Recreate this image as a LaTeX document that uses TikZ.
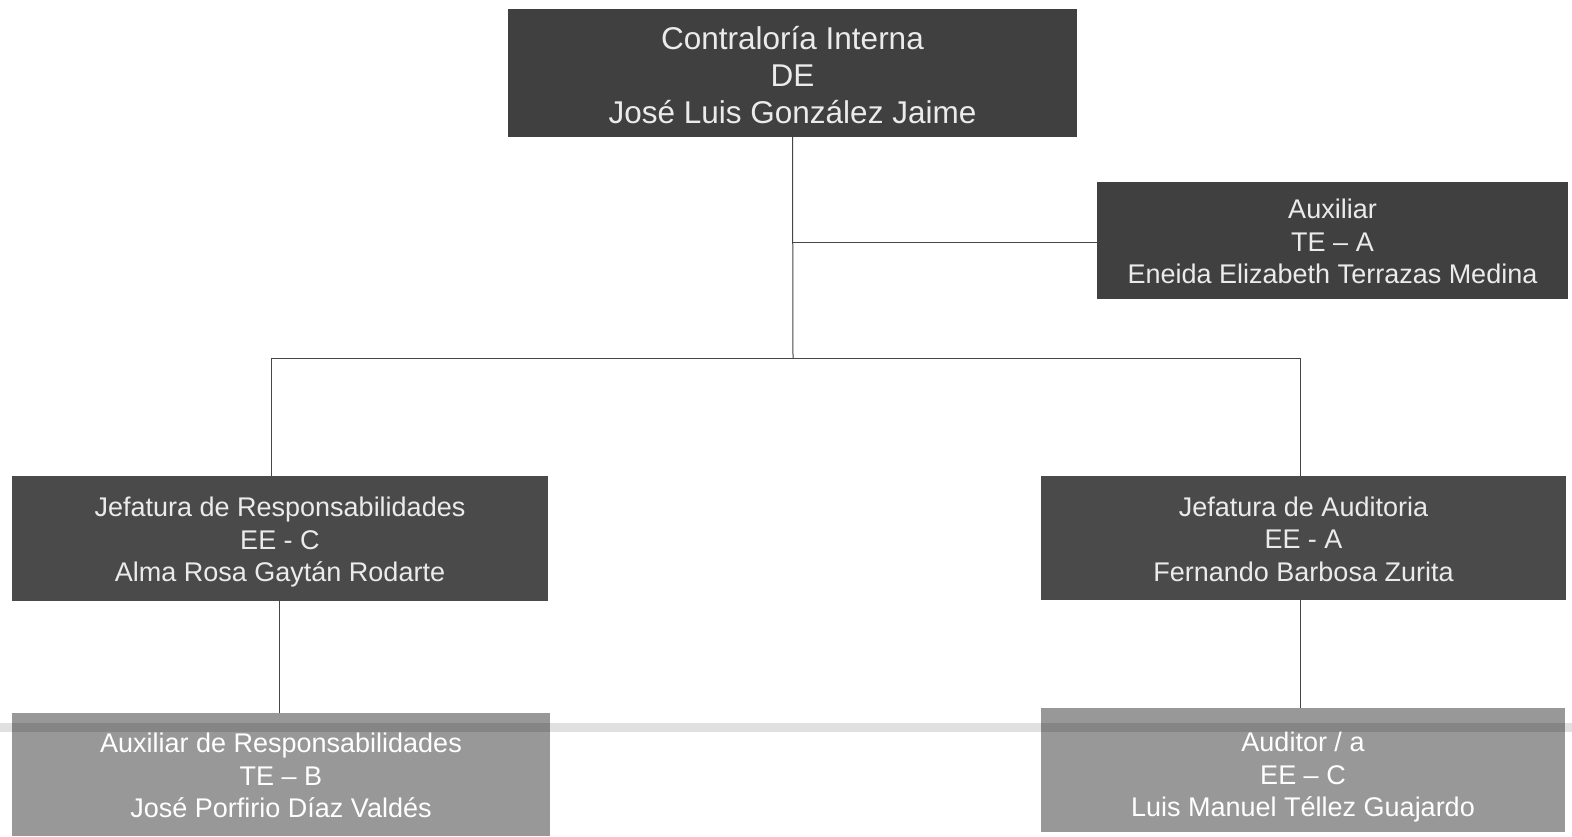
\documentclass[tikz,border=0pt]{standalone}
\usepackage{fontspec}
\setmainfont{Liberation Sans}
\definecolor{boxdark}{RGB}{64,64,64}
\definecolor{boxlight}{RGB}{152,152,152}
\definecolor{linkgray}{RGB}{70,70,70}
\begin{document}
\begin{tikzpicture}%
	[
	x=1pt,
	y=-1pt,
	dark/.style={rectangle, fill=boxdark, text=white!92!black, align=center, inner sep=0pt,
		font=\fontsize{27}{32.5}\selectfont, text height=92.4pt, text depth=6pt},
	light/.style={dark, fill=boxlight, text=white},
	top/.style={font=\fontsize{31.5}{37}\selectfont, text height=107.6pt, text depth=7pt},
	link/.style={color=linkgray, line width=1pt},
	fold/.style={color=black, line width=9pt, opacity=.12}]

\useasboundingbox[fill=white] (0,0) rectangle (1572,836);

\node[dark, top, minimum width=569, minimum height=128]
	(contraloria) at (792.5,73) {Contraloría Interna\\DE\\José Luis González Jaime};
\node[dark, minimum width=471, minimum height=117]
	(auxiliar) at (1332.5,240.5) {Auxiliar\\TE -- A\\Eneida Elizabeth Terrazas Medina};
\node[dark, minimum width=536, minimum height=125, fill=boxdark!95!white]
	(jefresp) at (280,538.5) {Jefatura de Responsabilidades\\EE - C\\Alma Rosa Gaytán Rodarte};
\node[dark, minimum width=525, minimum height=124, fill=boxdark!95!white]
	(jefaud) at (1303.5,538) {Jefatura de Auditoria\\EE - A\\Fernando Barbosa Zurita};
\node[light, minimum width=538, minimum height=123]
	(auxresp) at (281,774.5) {Auxiliar de Responsabilidades\\TE -- B\\José Porfirio Díaz Valdés};
\node[light, minimum width=524, minimum height=124, text height=99pt]
	(auditor) at (1303,770) {Auditor / a\\EE -- C\\Luis Manuel Téllez Guajardo};

\coordinate (branch) at (793,242);
\coordinate (fork) at (793,358);

\draw[link] (contraloria.south) -- (fork);
\draw[link] (branch) -- (branch -| auxiliar.west);
\draw[link] (fork) -| ([xshift=-9pt]jefresp.north);
\draw[link] (fork) -| ([xshift=-3.5pt]jefaud.north);
\draw[link] ([xshift=-1pt]jefresp.south) -- ([xshift=-2pt]auxresp.north);
\draw[link] ([xshift=-3.5pt]jefaud.south) -- ([xshift=-3pt]auditor.north);

% scanner fold
\draw[fold] (0,727) -- (1572,727);
\end{tikzpicture}
\end{document}
